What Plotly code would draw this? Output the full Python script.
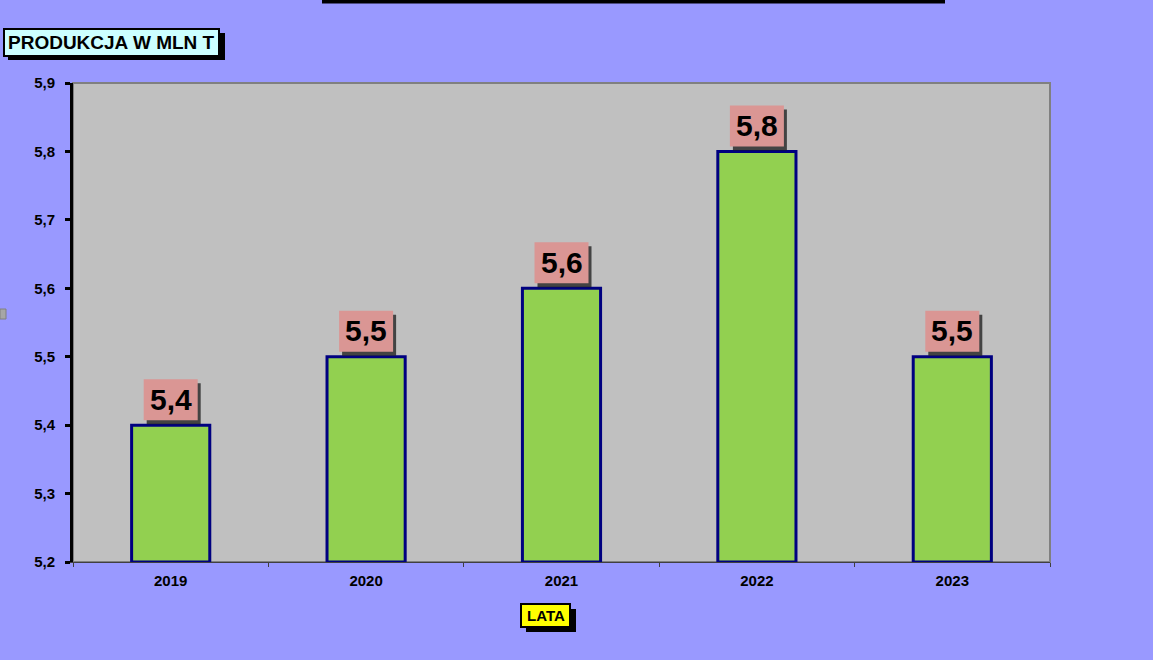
import plotly.graph_objects as go

years = ["2019", "2020", "2021", "2022", "2023"]
values = [5.4, 5.5, 5.6, 5.8, 5.5]
value_labels = ["5,4", "5,5", "5,6", "5,8", "5,5"]
y_min, y_max = 5.2, 5.9
y_title = "PRODUKCJA W MLN T"
x_title = "LATA"

W, H = 1153, 660
L, R, T, B = 73, 103, 83, 98
PW, PH = W - L - R, H - T - B

def px(x):
    return (x - L) / PW

def py(y):
    return (H - B - y) / PH

FONT = "Arial, Liberation Sans, sans-serif"

fig = go.Figure()
fig.add_trace(go.Bar(
    x=years,
    y=[v - y_min for v in values],
    base=y_min,
    width=0.4,
    marker=dict(color="#92D050", line=dict(color="#000080", width=3)),
    hoverinfo="skip",
))

shapes = [
    dict(type="rect", xref="paper", yref="paper", x0=0, x1=1, y0=0, y1=1,
         line=dict(color="#808080", width=2), layer="below"),
    # cut-off top frame
    dict(type="rect", xref="paper", yref="paper", x0=px(322), x1=px(945),
         y0=py(3.5), y1=py(-2), fillcolor="black", line=dict(width=0)),
    # small grey handle on left edge
    dict(type="rect", xref="paper", yref="paper", x0=px(0), x1=px(6),
         y0=py(319), y1=py(309), fillcolor="#A6A6A6",
         line=dict(color="#808080", width=1)),
    # title box shadow + box
    dict(type="rect", xref="paper", yref="paper", x0=px(8), x1=px(225),
         y0=py(60), y1=py(33), fillcolor="black", line=dict(width=0)),
    dict(type="rect", xref="paper", yref="paper", x0=px(4), x1=px(219),
         y0=py(56), y1=py(29), fillcolor="#CCFFFF", line=dict(color="black", width=2)),
    # x title box shadow + box
    dict(type="rect", xref="paper", yref="paper", x0=px(526), x1=px(576),
         y0=py(632), y1=py(609), fillcolor="black", line=dict(width=0)),
    dict(type="rect", xref="paper", yref="paper", x0=px(521), x1=px(570),
         y0=py(627), y1=py(604), fillcolor="#FFFF00", line=dict(color="black", width=2)),
]

annotations = []
for i, (v, lab) in enumerate(zip(values, value_labels)):
    shapes.append(dict(
        type="rect", xref="x", yref="y", xsizemode="pixel", ysizemode="pixel",
        xanchor=i, yanchor=v, x0=-24, x1=30, y0=1, y1=42,
        fillcolor="rgba(25,25,25,0.75)", line=dict(width=0),
    ))
    shapes.append(dict(
        type="rect", xref="x", yref="y", xsizemode="pixel", ysizemode="pixel",
        xanchor=i, yanchor=v, x0=-27, x1=27, y0=5, y1=46,
        fillcolor="#DA9694", line=dict(width=0),
    ))
    annotations.append(dict(
        x=i, y=v, xref="x", yref="y", text="<b>%s</b>" % lab, showarrow=False,
        yanchor="middle", xanchor="center", yshift=26,
        font=dict(family=FONT, size=30, color="black"),
    ))

annotations.append(dict(
    x=px(111.5), y=py(42.5), xref="paper", yref="paper", text="<b>%s</b>" % y_title,
    showarrow=False, xanchor="center", yanchor="middle",
    font=dict(family=FONT, size=19, color="black"),
))
annotations.append(dict(
    x=px(545.5), y=py(615.5), xref="paper", yref="paper", text="<b>%s</b>" % x_title,
    showarrow=False, xanchor="center", yanchor="middle",
    font=dict(family=FONT, size=15, color="black"),
))

fig.update_layout(
    width=W, height=H,
    margin=dict(l=L, r=R, t=T, b=B),
    paper_bgcolor="#9999FF",
    plot_bgcolor="#C0C0C0",
    separators=", ",
    showlegend=False,
    annotations=annotations,
    shapes=shapes,
    font=dict(family=FONT, color="black"),
    xaxis=dict(
        type="category", range=[-0.5, len(years) - 0.5], autorange=False,
        showgrid=False, tickson="boundaries",
        ticks="outside", ticklen=4, tickwidth=1, tickcolor="#404040",
        showline=True, linecolor="#404040", linewidth=1,
        tickfont=dict(family=FONT, size=15, color="black", weight="bold"),
        ticklabelstandoff=5, tickangle=0,
    ),
    yaxis=dict(
        range=[y_min, y_max], autorange=False, dtick=0.1, tick0=y_min, tickformat=".1f",
        showgrid=False, zeroline=False,
        ticks="outside", ticklen=5, tickwidth=3, tickcolor="black",
        showline=True, linecolor="black", linewidth=3,
        tickfont=dict(family=FONT, size=15, color="black", weight="bold"),
        ticklabelstandoff=7,
    ),
)

fig.write_html(
    "out.html",
    config={"displayModeBar": False},
    post_script="document.body.style.margin='0';document.body.style.overflow='hidden';",
)
